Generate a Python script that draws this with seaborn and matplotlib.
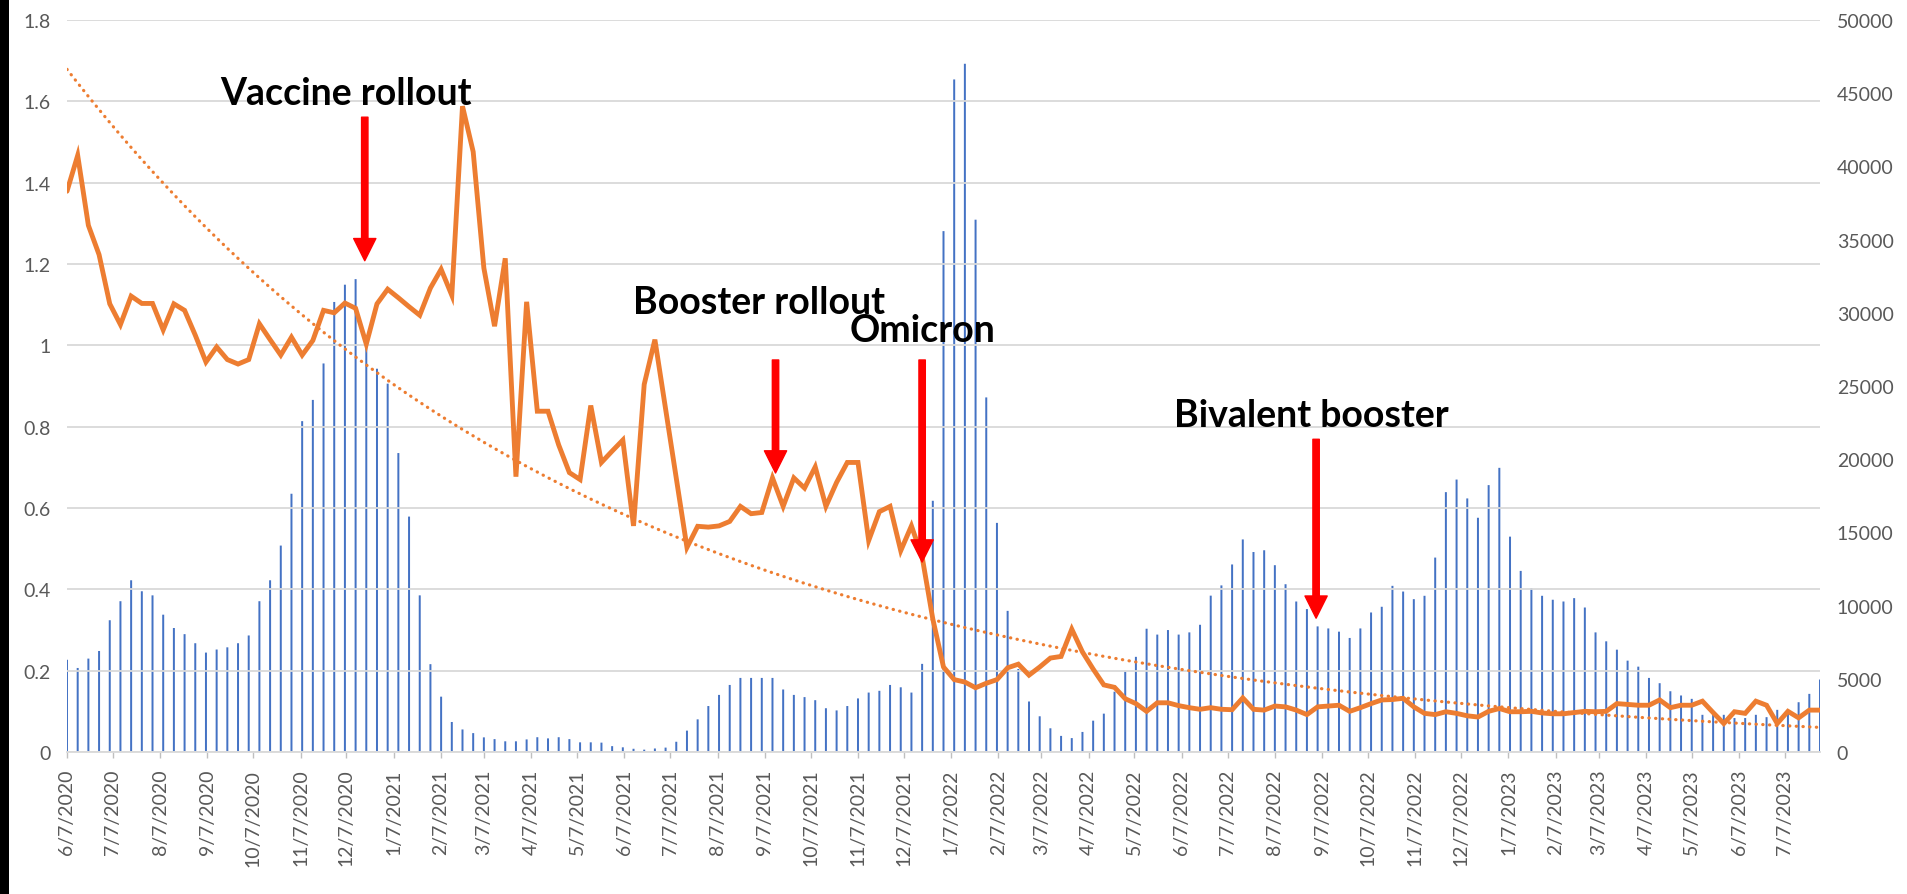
import matplotlib
matplotlib.use("Agg")
import matplotlib.pyplot as plt
import matplotlib.dates as mdates
from matplotlib.ticker import FuncFormatter
from matplotlib.patches import Rectangle
import numpy as np
import pandas as pd
import seaborn as sns

# ---------------------------------------------------------------- data
start_date = "2020-06-07"          # weekly observations, one per Sunday

# left axis: weekly ratio (orange line)
ratio_values = [
    1.379, 1.467, 1.295, 1.223, 1.102, 1.051, 1.121, 1.103, 1.103, 1.038,
    1.102, 1.086, 1.025, 0.959, 0.996, 0.965, 0.954, 0.965, 1.053, 1.014,
    0.976, 1.020, 0.976, 1.012, 1.086, 1.080, 1.104, 1.091,
    1.003, 1.102, 1.138, 1.117, 1.095, 1.074, 1.141, 1.187, 1.123, 1.588,
    1.476, 1.190, 1.047, 1.214, 0.677, 1.107, 0.838, 0.838, 0.755, 0.687,
    0.670, 0.852, 0.712, 0.740, 0.767, 0.556, 0.904,
    1.014, 0.844, 0.674, 0.503, 0.555, 0.553, 0.556, 0.567, 0.604, 0.586,
    0.589, 0.674, 0.604, 0.674, 0.649, 0.701, 0.604, 0.663, 0.712, 0.712,
    0.520, 0.591, 0.604, 0.495, 0.556, 0.480, 0.327,
    0.209, 0.178, 0.172, 0.158, 0.169, 0.178, 0.207, 0.216, 0.189, 0.209,
    0.231, 0.235, 0.302, 0.246, 0.204, 0.165, 0.159, 0.131, 0.119, 0.100,
    0.121, 0.121, 0.114, 0.109, 0.105, 0.109, 0.105, 0.104, 0.133,
    0.105, 0.103, 0.113, 0.111, 0.103, 0.092, 0.111, 0.113, 0.115, 0.100,
    0.109, 0.119, 0.128, 0.129, 0.132, 0.111, 0.095, 0.092, 0.099, 0.095,
    0.089, 0.086, 0.100, 0.107, 0.099, 0.099, 0.100, 0.096, 0.094, 0.094,
    0.097, 0.100, 0.099, 0.100, 0.119, 0.117, 0.115, 0.115, 0.128, 0.109,
    0.115, 0.115, 0.125, 0.097, 0.070, 0.099, 0.095, 0.125, 0.115, 0.070,
    0.100, 0.084, 0.103, 0.103,
]

# right axis: weekly counts (blue columns)
weekly_counts = [
    6300, 5740, 6380, 6900, 9000, 10300, 11730, 10980, 10700, 9380,
    8470, 8050, 7430, 6790, 7000, 7150, 7430, 7960, 10300, 11730,
    14100, 17640, 22600, 24050, 26540, 30740, 31920, 32300,
    27850, 26180, 25160, 20420, 16080, 10700, 6000, 3780, 2050, 1540,
    1290, 1000, 880, 730, 730, 860, 1010, 930, 1010, 880,
    660, 660, 640, 400, 320, 220, 160,
    240, 300, 700, 1460, 2230, 3140, 3900, 4580, 5060, 5060,
    5060, 5060, 4270, 3900, 3750, 3540, 2990, 2840, 3140, 3660,
    4060, 4180, 4580, 4420, 4060, 6020, 17160,
    35580, 45940, 47010, 36360, 24220, 15650, 9640, 5670, 3450, 2440,
    1620, 1100, 950, 1370, 2140, 2620, 4120, 5490, 6500, 8420,
    8020, 8330, 8020, 8170, 8690, 10680, 11380, 12810, 14520,
    13660, 13780, 12760, 11460, 10280, 9760, 8580, 8440, 8220, 7790,
    8440, 9530, 9920, 11350, 10960, 10440, 10670, 13280, 17750, 18610,
    17320, 16000, 18230, 19410, 14710, 12370, 11190, 10670, 10400, 10280,
    10510, 9870, 8170, 7560, 6990, 6240, 5830, 5060, 4700, 4150,
    3860, 3630, 2540, 2540, 2540, 2320, 2320, 2540, 2380, 2880,
    2880, 3400, 3970, 4950,
]

event_labels = ["Vaccine rollout", "Booster rollout", "Omicron", "Bivalent booster"]
event_dates = ["2020-12-19", "2021-09-14", "2021-12-19", "2022-09-03"]

left_ticks = [0, 0.2, 0.4, 0.6, 0.8, 1.0, 1.2, 1.4, 1.6, 1.8]
right_ticks = [0, 5000, 10000, 15000, 20000, 25000, 30000, 35000, 40000, 45000, 50000]

assert len(ratio_values) == len(weekly_counts)

weeks = pd.date_range(start_date, periods=len(ratio_values), freq="7D")
df = pd.DataFrame({"week": weeks, "ratio": ratio_values, "count": weekly_counts})

# exponential trend fitted to the ratio series
idx = np.arange(len(df))
slope, intercept = np.polyfit(idx, np.log(df["ratio"].to_numpy()), 1)
df["trend"] = np.exp(intercept + slope * idx)

# ---------------------------------------------------------------- style
sns.set_style("white")
plt.rcParams["font.family"] = ["Lato", "DejaVu Sans"]

ORANGE = "#ED7D31"
BLUE = "#4472C4"
GRID = "#D9D9D9"
LABEL = "#595959"

W, H = 1907, 895
fig = plt.figure(figsize=(W / 100, H / 100), dpi=100, facecolor="white")
ax_l, ax_r, ax_b, ax_t = 67, 1820, 753, 21
ax = fig.add_axes([ax_l / W, 1 - ax_b / H, (ax_r - ax_l) / W, (ax_b - ax_t) / H])
ax2 = ax.twinx()

# columns on the secondary axis, drawn underneath
ax2.bar(df["week"], df["count"], width=1.3, color=BLUE, linewidth=0,
        snap=False, zorder=1)
ax2.set_ylim(0, 50000)
ax2.set_yticks(right_ticks)
ax2.yaxis.set_major_formatter(FuncFormatter(lambda v, p: f"{int(v)}"))

# ratio line and its trend on the primary axis
ax.set_zorder(ax2.get_zorder() + 1)
ax.patch.set_visible(False)
sns.lineplot(data=df, x="week", y="trend", ax=ax, color=ORANGE, linewidth=2.3,
             linestyle=(0, (0.1, 2.0)), dash_capstyle="round", zorder=3)
sns.lineplot(data=df, x="week", y="ratio", ax=ax, color=ORANGE, linewidth=3.5,
             solid_joinstyle="miter", zorder=4)
ax.set_ylim(0, 1.8)
ax.set_yticks(left_ticks)
ax.yaxis.set_major_formatter(FuncFormatter(lambda v, p: f"{v:g}"))
ax.set_xlim(df["week"].iloc[0], df["week"].iloc[-1])
ax.set_xlabel("")
ax.set_ylabel("")
ax2.set_ylabel("")

ax.yaxis.grid(True, color=GRID, linewidth=1.3)
ax.xaxis.grid(False)
ax.set_axisbelow(True)

ax.xaxis.set_major_locator(mdates.MonthLocator(bymonthday=7))
ax.xaxis.set_major_formatter(
    FuncFormatter(lambda v, p: (lambda d: f"{d.month}/{d.day}/{d.year}")(mdates.num2date(v))))

for a in (ax, ax2):
    for s in a.spines.values():
        s.set_visible(False)
ax.spines["bottom"].set_visible(True)
ax.spines["bottom"].set_color(GRID)
ax.spines["bottom"].set_linewidth(1.3)

ax.tick_params(axis="x", which="major", direction="out", length=4, width=1,
               color="#BFBFBF", labelsize=14, labelcolor=LABEL, pad=8,
               labelrotation=90, bottom=True)
ax.tick_params(axis="y", length=0, labelsize=14, labelcolor=LABEL, pad=12)
ax2.tick_params(axis="y", length=0, labelsize=14, labelcolor=LABEL, pad=12)

# ---------------------------------------------------------------- events
text_pos = [(0.159, 0.885), (0.395, 0.600), (0.488, 0.5615), (0.710, 0.4453)]
arrow_y = [(1.561, 1.208), (0.964, 0.686), (0.964, 0.467), (0.769, 0.329)]
for label, d, (tx, ty), (y0, y1) in zip(event_labels, event_dates, text_pos, arrow_y):
    ax.text(tx, ty, label, transform=ax.transAxes, ha="center", va="baseline",
            fontsize=27, fontweight="bold", color="black", zorder=6)
    dt = pd.Timestamp(d)
    ax.annotate("", xy=(dt, y1), xytext=(dt, y0),
                arrowprops=dict(arrowstyle="simple,head_width=0.8,head_length=0.8,tail_width=0.23",
                                mutation_scale=20, color="#FF0000", shrinkA=0, shrinkB=0),
                zorder=7)

# dark margin along the left edge
fig.add_artist(Rectangle((0, 0), 9 / W, 1, transform=fig.transFigure,
                         facecolor="black", edgecolor="none", zorder=10))

fig.savefig("out.png", dpi=100, facecolor="white")
